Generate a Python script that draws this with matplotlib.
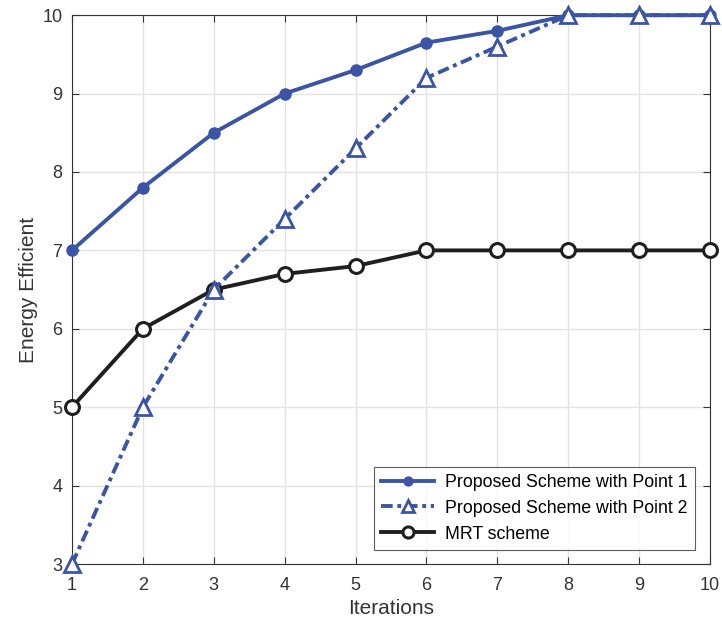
import matplotlib.pyplot as plt

plt.rcParams["font.family"] = ["Liberation Sans", "DejaVu Sans"]

iterations = [1, 2, 3, 4, 5, 6, 7, 8, 9, 10]
point1 = [7, 7.8, 8.5, 9, 9.3, 9.65, 9.8, 10, 10, 10]
point2 = [3, 5, 6.5, 7.4, 8.3, 9.2, 9.6, 10, 10, 10]
mrt = [5, 6, 6.5, 6.7, 6.8, 7, 7, 7, 7, 7]

BLUE = "#3a55a5"
DARK = "#1f1f1f"

fig = plt.figure(figsize=(7.22, 6.33), dpi=100)
ax = fig.add_axes([0.0997, 0.109, 0.8837, 0.867])

ax.plot(iterations, point1, color=BLUE, lw=2.8, marker="o", ms=8,
        clip_on=False, zorder=3, label="Proposed Scheme with Point 1")
ax.plot(iterations, point2, color=BLUE, lw=2.8, ls=(0, (3, 1.2, 1, 1.2)),
        marker="^", ms=11, mfc="white", mew=2, clip_on=False, zorder=4,
        label="Proposed Scheme with Point 2")
ax.plot(iterations, mrt, color=DARK, lw=2.8, marker="o", ms=10,
        mfc="white", mew=2.2, clip_on=False, zorder=3, label="MRT scheme")

ax.set_xlim(1, 10)
ax.set_ylim(3, 10)
ax.set_xticks(iterations)
ax.set_yticks(range(3, 11))
ax.grid(True, color="#e3e3e3", lw=1)
ax.set_axisbelow(True)
ax.tick_params(direction="in", length=5, labelsize=13, colors="#333333",
               top=True, right=True)
ax.tick_params(axis="x", pad=9)
ax.tick_params(axis="y", pad=7)
for s in ax.spines.values():
    s.set_color("#333333")
    s.set_linewidth(0.8)

ax.set_xlabel("Iterations", fontsize=15, color="#333333", labelpad=4)
ax.set_ylabel("Energy Efficient", fontsize=15, color="#333333", labelpad=3)

leg = ax.legend(loc="lower right", bbox_to_anchor=(0.99, 0.01),
                fontsize=12.8, frameon=True, fancybox=False,
                handlelength=3, borderpad=0.4, labelspacing=0.5,
                handletextpad=0.6, markerscale=0.8)
leg.get_frame().set_edgecolor("#333333")
leg.get_frame().set_linewidth(0.8)

plt.savefig("out.png", dpi=100)
